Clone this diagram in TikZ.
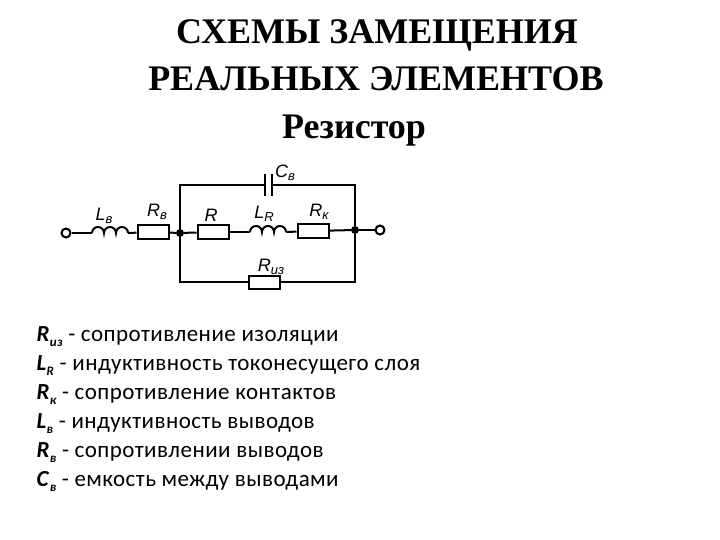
\documentclass[tikz,border=0pt]{standalone}
\usepackage{fontspec}
\setmainfont{Liberation Serif}
\setsansfont{Liberation Sans}
\newfontfamily\legendfont{Carlito}
\usetikzlibrary{calc}
\newcommand{\lsub}[1]{\raisebox{-5pt}{\fontsize{13}{13}\selectfont\bfseries\itshape #1}}
\newcommand{\csub}[1]{\raisebox{-3pt}{\fontsize{13}{13}\selectfont #1}}
\tikzset{
	wire/.style={line width=2pt},
	resbox/.style={draw,line width=2pt,fill=white,minimum width=31pt,minimum height=13pt,inner sep=0pt},
	terminal/.style={circle,draw,line width=2pt,fill=white,minimum size=9pt,inner sep=0pt},
	junction/.style={circle,fill=black,minimum size=8pt,inner sep=0pt},
	elabel/.style={font=\sffamily\itshape\fontsize{18}{18}\selectfont},
	titleline/.style={font=\bfseries\fontsize{36}{36}\selectfont},
	legendline/.style={anchor=base west,font=\legendfont\fontsize{23}{23}\selectfont\addfontfeatures{LetterSpace=2}}
}
\begin{document}
\begin{tikzpicture}[x=1pt,y=-1pt]
	\useasboundingbox (0,0) rectangle (720,540);
	% headings
	\node[titleline] (title1) at (377,35) {СХЕМЫ ЗАМЕЩЕНИЯ};
	\node[titleline] (title2) at (376,79) {РЕАЛЬНЫХ ЭЛЕМЕНТОВ};
	\node[titleline] (title3) at (354,131) {Резистор};
	% circuit
	\node[terminal] (inp) at (66,233) {};
	\node[terminal] (outp) at (380,230) {};
	\node[junction] (jl) at (180,233) {};
	\node[junction] (jr) at (355,230) {};
	\node[resbox] (rv) at (153,232) {};
	\node[resbox] (r) at (213,232) {};
	\node[resbox] (rk) at (313,231) {};
	\node[resbox] (riz) at (264,282) {};
	\coordinate (lva) at (92,233);
	\coordinate (lvb) at (128,233);
	\coordinate (lra) at (250,232);
	\coordinate (lrb) at (286,232);
	\coordinate (tl) at (180,185);
	\coordinate (tr) at (355,185);
	\coordinate (bl) at (180,282);
	\coordinate (br) at (355,282);
	\coordinate (ca) at (265,185);
	\coordinate (cb) at (272,185);
	\draw[wire] (inp) -- (lva);
	\draw[wire] (lva) arc[start angle=180,end angle=360,radius=6] arc[start angle=180,end angle=360,radius=6] arc[start angle=180,end angle=360,radius=6];
	\draw[wire] (lvb) -- (rv);
	\draw[wire] (rv) -- (jl);
	\draw[wire] (jl) -- (r);
	\draw[wire] (r) -- (lra);
	\draw[wire] (lra) arc[start angle=180,end angle=360,radius=6] arc[start angle=180,end angle=360,radius=6] arc[start angle=180,end angle=360,radius=6];
	\draw[wire] (lrb) -- (rk);
	\draw[wire] (rk) -- (jr);
	\draw[wire] (jr) -- (outp);
	\draw[wire] (jl) -- (tl) -- (ca);
	\draw[wire] (cb) -- (tr) -- (jr);
	\draw[wire] (jl) -- (bl) -- (riz);
	\draw[wire] (riz) -- (br) -- (jr);
	\draw[line width=2.4pt] ($(ca)+(0,-11)$) -- ($(ca)+(0,11)$);
	\draw[line width=2.4pt] ($(cb)+(0,-11)$) -- ($(cb)+(0,11)$);
	% element labels
	\node[elabel] (lblcv) at (285,173) {C\csub{в}};
	\node[elabel] (lbllv) at (104,216) {L\csub{в}};
	\node[elabel] (lblrv) at (157,212) {R\csub{в}};
	\node[elabel] (lblr) at (211,215) {R};
	\node[elabel] (lbllr) at (264,214) {L\csub{R}};
	\node[elabel] (lblrk) at (319,212) {R\csub{к}};
	\node[elabel] (lblriz) at (271,267) {R\csub{из}};
	% legend
	\node[legendline] (leg1) at (33,341) {\textbf{\textit{R}}\lsub{из} - сопротивление изоляции};
	\node[legendline] (leg2) at (33,370) {\textbf{\textit{L}}\lsub{R} - индуктивность токонесущего слоя};
	\node[legendline] (leg3) at (33,399) {\textbf{\textit{R}}\lsub{к} - сопротивление контактов};
	\node[legendline] (leg4) at (33,428) {\textbf{\textit{L}}\lsub{в} - индуктивность выводов};
	\node[legendline] (leg5) at (33,457) {\textbf{\textit{R}}\lsub{в} - сопротивлении выводов};
	\node[legendline] (leg6) at (33,486) {\textbf{\textit{C}}\lsub{в} - емкость между выводами};
\end{tikzpicture}
\end{document}
